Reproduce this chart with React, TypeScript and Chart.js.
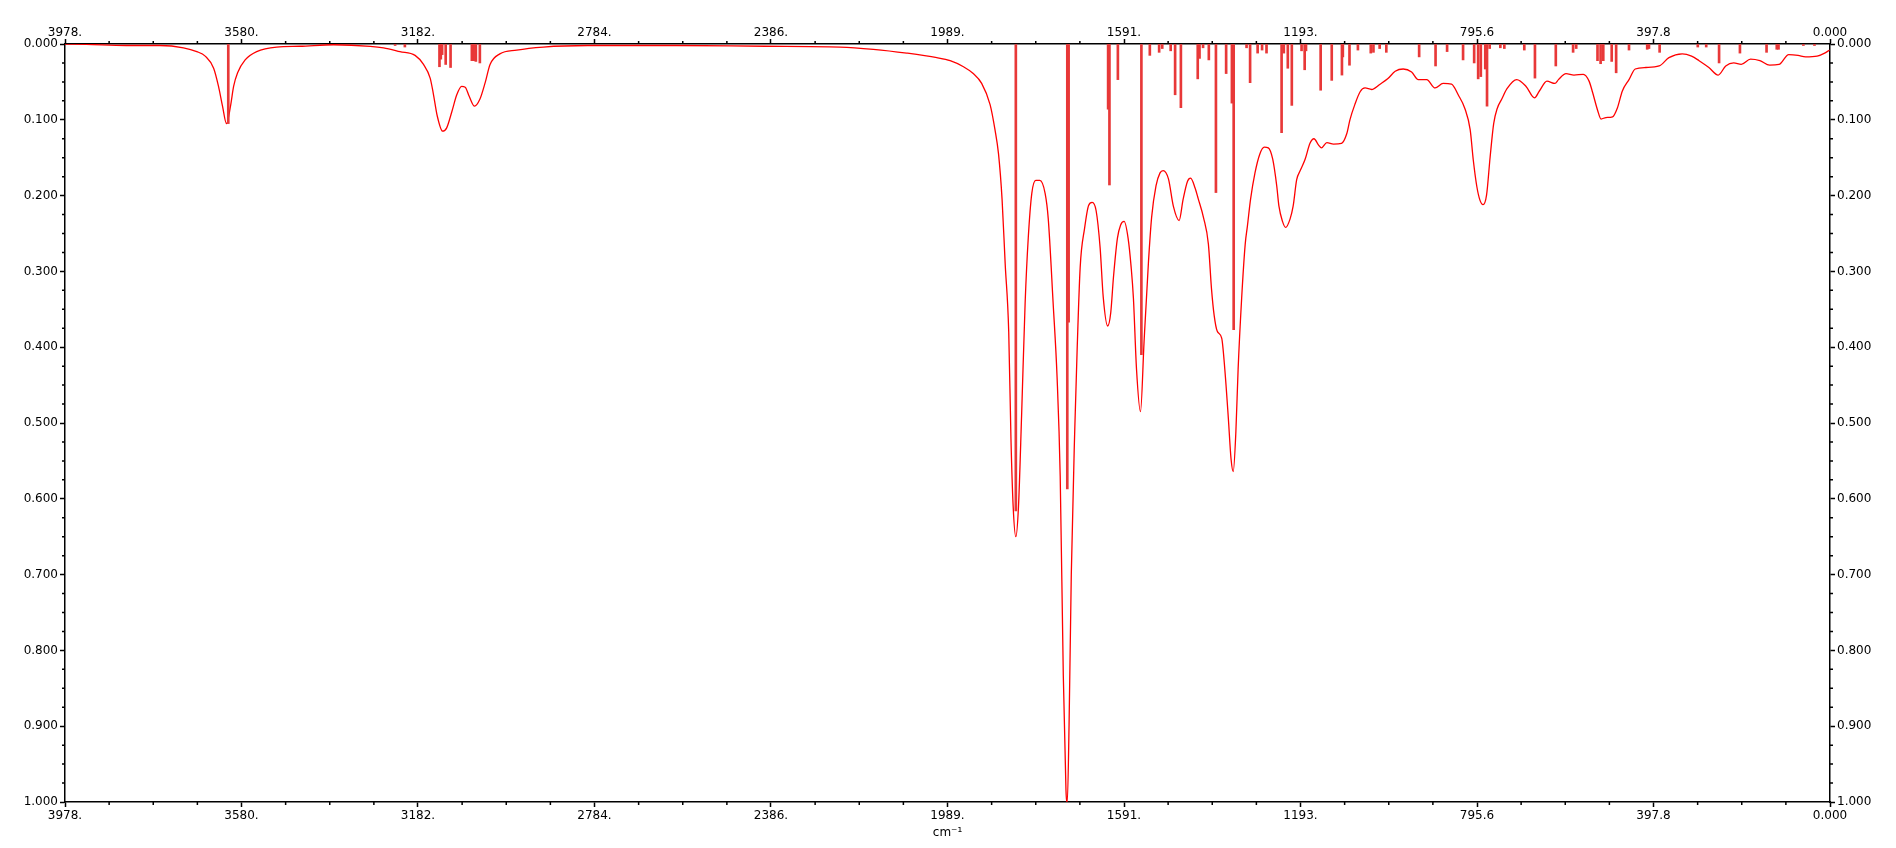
import { useEffect, useRef } from 'react';
import { Chart, registerables } from 'chart.js';

Chart.register(...registerables);

// Absorbance spectrum (wavenumber, cm-1)
const curveWavenumbers = [
  3978, 3930, 3840, 3764, 3711, 3681, 3662, 3643, 3632, 3623, 3614, 3605, 3598, 3589, 3572, 3546,
  3501, 3449, 3373, 3290, 3260, 3223, 3189, 3170, 3155, 3148, 3139, 3127, 3118, 3106, 3095, 3084,
  3076, 3067, 3055, 3043, 3031, 3020, 2998, 2960, 2900, 2800, 2600, 2400, 2231, 2156, 2081, 2013,
  1983, 1953, 1931, 1912, 1893, 1882, 1874, 1866, 1859, 1851, 1846, 1841, 1835, 1829, 1822, 1814,
  1807, 1799, 1790, 1781, 1769, 1762, 1751, 1742, 1735, 1728, 1722, 1719, 1715, 1710, 1702, 1697,
  1690, 1680, 1671, 1663, 1654, 1645, 1638, 1628, 1621, 1615, 1606, 1599, 1591, 1582, 1575, 1570,
  1563, 1554, 1546, 1536, 1529, 1519, 1510, 1503, 1491, 1480, 1467, 1458, 1448, 1441, 1431, 1424,
  1412, 1401, 1394, 1388, 1381, 1371, 1364, 1356, 1350, 1345, 1339, 1334, 1326, 1318, 1313, 1306,
  1296, 1285, 1275, 1266, 1256, 1247, 1242, 1234, 1227, 1217, 1210, 1202, 1194, 1183, 1172, 1163,
  1153, 1146, 1134, 1119, 1101, 1089, 1082, 1071, 1059, 1048, 1033, 1014, 997, 980, 962, 943,
  928, 909, 890, 872, 853, 838, 823, 811, 804, 796, 789, 782, 774, 766, 758, 750,
  740, 728, 706, 685, 666, 655, 638, 620, 612, 595, 577, 556, 543, 535, 524, 516,
  505, 490, 479, 468, 453, 439, 415, 385, 363, 333, 312, 295, 273, 252, 235, 217,
  200, 179, 158, 136, 115, 93, 72, 55, 29, 12, 1,
];
const curveAbsorbance = [
  0.000, 0.0005, 0.002, 0.002, 0.005, 0.010, 0.016, 0.032, 0.056, 0.082, 0.105, 0.082, 0.056, 0.038, 0.021, 0.010,
  0.004, 0.003, 0.001, 0.003, 0.005, 0.010, 0.015, 0.027, 0.045, 0.065, 0.095, 0.115, 0.111, 0.089, 0.067, 0.056,
  0.057, 0.069, 0.082, 0.073, 0.051, 0.027, 0.013, 0.008, 0.004, 0.002, 0.002, 0.003, 0.004, 0.007, 0.012, 0.018,
  0.022, 0.030, 0.039, 0.052, 0.080, 0.113, 0.145, 0.205, 0.290, 0.380, 0.520, 0.610, 0.650, 0.610, 0.490, 0.341,
  0.256, 0.197, 0.180, 0.180, 0.197, 0.230, 0.341, 0.440, 0.570, 0.833, 0.984, 1.000, 0.898, 0.700, 0.505, 0.407,
  0.295, 0.243, 0.213, 0.209, 0.220, 0.269, 0.334, 0.372, 0.354, 0.308, 0.256, 0.239, 0.234, 0.256, 0.295, 0.335,
  0.429, 0.485, 0.393, 0.287, 0.229, 0.187, 0.170, 0.167, 0.178, 0.214, 0.233, 0.205, 0.181, 0.177, 0.190, 0.204,
  0.229, 0.264, 0.323, 0.358, 0.379, 0.388, 0.429, 0.494, 0.547, 0.564, 0.511, 0.429, 0.335, 0.264, 0.240, 0.205,
  0.170, 0.145, 0.136, 0.137, 0.152, 0.187, 0.214, 0.234, 0.242, 0.231, 0.214, 0.179, 0.167, 0.152, 0.131, 0.125,
  0.133, 0.137, 0.130, 0.132, 0.131, 0.118, 0.100, 0.080, 0.063, 0.058, 0.060, 0.053, 0.046, 0.036, 0.033, 0.037,
  0.047, 0.047, 0.058, 0.052, 0.053, 0.067, 0.085, 0.113, 0.153, 0.188, 0.206, 0.212, 0.199, 0.149, 0.105, 0.085,
  0.073, 0.059, 0.047, 0.056, 0.071, 0.062, 0.049, 0.052, 0.047, 0.039, 0.041, 0.040, 0.049, 0.064, 0.087, 0.099,
  0.097, 0.096, 0.084, 0.062, 0.047, 0.033, 0.031, 0.029, 0.018, 0.013, 0.016, 0.022, 0.031, 0.041, 0.029, 0.025,
  0.027, 0.020, 0.022, 0.028, 0.027, 0.014, 0.015, 0.017, 0.016, 0.012, 0.008,
];

// Computed line positions (sticks)
const stickWavenumbers = [
  3610, 3234, 3212, 3134, 3131, 3128, 3120, 3109, 3061, 3057, 3052, 3043,
  1835, 1719, 1716, 1627, 1624, 1605, 1552, 1533, 1512, 1505, 1486, 1476, 1463, 1425, 1421, 1413,
  1400, 1384, 1361, 1348, 1344, 1315, 1307, 1290, 1280, 1270, 1236, 1231, 1222, 1213, 1191, 1184,
  1181, 1148, 1123, 1100, 1098, 1083, 1064, 1035, 1029, 1015, 1000, 926, 889, 863, 827, 802,
  793, 787, 777, 773, 767, 743, 734, 689, 665, 618, 579, 572, 524, 517, 511, 492,
  482, 453, 412, 408, 384, 298, 279, 250, 203, 143, 120, 116, 60, 35,
];
const stickIntensities = [
  0.105, 0.002, 0.004, 0.030, 0.020, 0.014, 0.027, 0.031, 0.022, 0.022, 0.023, 0.025,
  0.616, 0.587, 0.367, 0.086, 0.186, 0.047, 0.410, 0.015, 0.011, 0.006, 0.009, 0.067, 0.084, 0.046, 0.019, 0.005,
  0.021, 0.196, 0.039, 0.078, 0.377, 0.005, 0.051, 0.012, 0.008, 0.012, 0.117, 0.012, 0.032, 0.081, 0.009, 0.034,
  0.009, 0.061, 0.048, 0.041, 0.017, 0.028, 0.008, 0.012, 0.011, 0.006, 0.011, 0.017, 0.029, 0.010, 0.021, 0.025,
  0.046, 0.043, 0.033, 0.082, 0.006, 0.005, 0.006, 0.008, 0.045, 0.029, 0.011, 0.006, 0.022, 0.026, 0.022, 0.023,
  0.038, 0.008, 0.007, 0.006, 0.011, 0.004, 0.004, 0.025, 0.012, 0.011, 0.007, 0.007, 0.002, 0.002,
];

const xTickValues = [3978, 3580.2, 3182.4, 2784.6, 2386.8, 1989, 1591.2, 1193.4, 795.6, 397.8, 0];
const xTickLabels = ['3978.', '3580.', '3182.', '2784.', '2386.', '1989.', '1591.', '1193.', '795.6', '397.8', '0.000'];
const yTickValues = [0, 0.1, 0.2, 0.3, 0.4, 0.5, 0.6, 0.7, 0.8, 0.9, 1.0];
const yTickLabels = ['0.000', '0.100', '0.200', '0.300', '0.400', '0.500', '0.600', '0.700', '0.800', '0.900', '1.000'];
const X_MAX = 3978;
const X_MINOR_STEP = 99.45;
const Y_MINOR_STEP = 0.025;

const FONT = { family: 'DejaVu Sans', size: 12 };

const minorTicksPlugin = {
  id: 'minorTicks',
  afterDraw(chart: any) {
    const ctx = chart.ctx;
    const area = chart.chartArea;
    ctx.save();
    ctx.strokeStyle = '#000';
    ctx.lineWidth = 1.5;
    ctx.beginPath();
    const len = 3;
    for (let i = 0; i <= 40; i++) {
      if (i % 4 === 0) continue;
      const v = i * X_MINOR_STEP;
      const px = chart.scales.x.getPixelForValue(v);
      ctx.moveTo(px, area.bottom);
      ctx.lineTo(px, area.bottom + len);
      const px2 = chart.scales.x2.getPixelForValue(v);
      ctx.moveTo(px2, area.top);
      ctx.lineTo(px2, area.top - len);
    }
    for (let i = 0; i <= 40; i++) {
      if (i % 4 === 0) continue;
      const v = i * Y_MINOR_STEP;
      const py = chart.scales.y.getPixelForValue(v);
      ctx.moveTo(area.left, py);
      ctx.lineTo(area.left - len, py);
      const py2 = chart.scales.y2.getPixelForValue(v);
      ctx.moveTo(area.right, py2);
      ctx.lineTo(area.right + len, py2);
    }
    ctx.stroke();
    ctx.restore();
  },
};

function xScale(position: 'top' | 'bottom', height: number, withTitle: boolean) {
  return {
    type: 'linear',
    position,
    min: 0,
    max: X_MAX,
    reverse: true,
    offset: false,
    afterBuildTicks: (s: any) => {
      s.ticks = xTickValues.map((value) => ({ value }));
    },
    afterFit: (s: any) => {
      s.height = height;
    },
    ticks: {
      callback: (_v: any, i: number) => xTickLabels[i],
      autoSkip: false,
      maxRotation: 0,
      padding: position === 'top' ? -1.5 : 2,
      color: '#000',
      font: FONT,
    },
    grid: {
      offset: false,
      drawOnChartArea: false,
      drawTicks: true,
      tickLength: 5,
      tickColor: '#000',
      tickWidth: 1.5,
    },
    border: { display: true, color: '#000', width: 1.5 },
    title: {
      display: withTitle,
      text: 'cm⁻¹',
      color: '#000',
      font: FONT,
      padding: 0,
    },
  };
}

function yScale(position: 'left' | 'right', width: number) {
  return {
    type: 'linear',
    position,
    min: 0,
    max: 1,
    reverse: true,
    afterBuildTicks: (s: any) => {
      s.ticks = yTickValues.map((value) => ({ value }));
    },
    afterFit: (s: any) => {
      s.width = width;
    },
    ticks: {
      callback: (_v: any, i: number) => yTickLabels[i],
      autoSkip: false,
      padding: 2,
      color: '#000',
      font: FONT,
    },
    grid: {
      drawOnChartArea: false,
      drawTicks: true,
      tickLength: 5,
      tickColor: '#000',
      tickWidth: 1.5,
    },
    border: { display: true, color: '#000', width: 1.5 },
  };
}

export default function App() {
  const canvasRef = useRef<HTMLCanvasElement | null>(null);

  useEffect(() => {
    if (!canvasRef.current) return;
    const lineData = curveWavenumbers.map((x, i) => ({ x, y: curveAbsorbance[i] }));
    const stickData = stickWavenumbers.map((x, i) => ({ x, y: stickIntensities[i] }));
    const chart = new Chart(canvasRef.current, {
      type: 'line',
      data: {
        datasets: [
          {
            type: 'line',
            data: lineData,
            borderColor: 'rgb(255, 0, 0)',
            borderWidth: 1.3,
            pointRadius: 0,
            cubicInterpolationMode: 'monotone',
            fill: false,
            xAxisID: 'x',
            yAxisID: 'y',
            order: 2,
          } as any,
          {
            type: 'bar',
            data: stickData,
            backgroundColor: 'rgb(232, 56, 56)',
            borderWidth: 0,
            barThickness: 2,
            grouped: false,
            xAxisID: 'x',
            yAxisID: 'y',
            order: 1,
          } as any,
        ],
      },
      options: {
        responsive: false,
        animation: false,
        devicePixelRatio: 1,
        layout: { padding: 0 },
        plugins: { legend: { display: false }, tooltip: { enabled: false } },
        events: [],
        scales: {
          x: xScale('bottom', 38, true),
          x2: xScale('top', 36, false),
          y: yScale('left', 57),
          y2: yScale('right', 58),
        } as any,
      },
      plugins: [minorTicksPlugin],
    });
    return () => chart.destroy();
  }, []);

  return (
    <canvas
      ref={canvasRef}
      width={1880}
      height={832}
      style={{ display: 'block', width: '1880px', height: '832px' }}
    />
  );
}
